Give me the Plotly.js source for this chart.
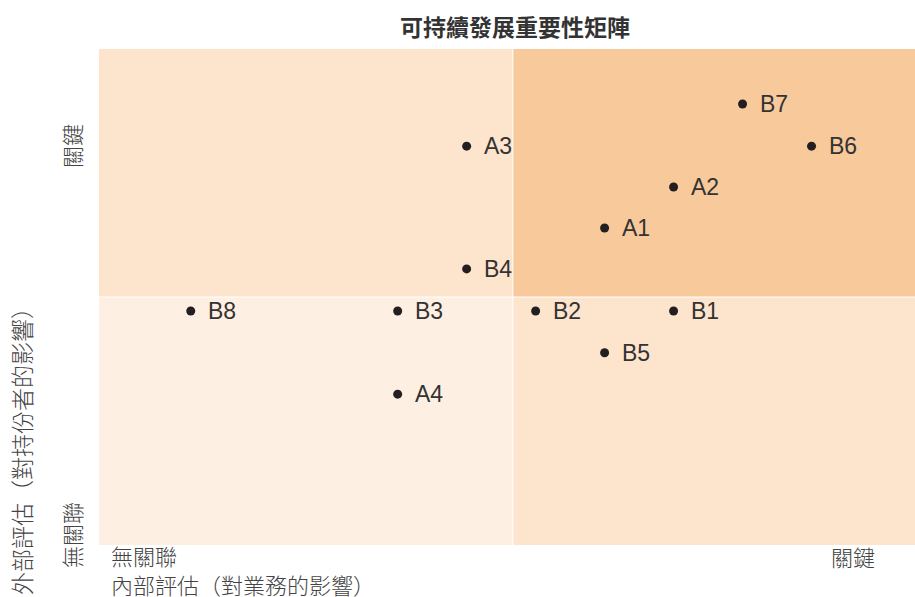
<!DOCTYPE html>
<html>
<head>
<meta charset="utf-8">
<script src="https://cdn.plot.ly/plotly-3.0.1.min.js"></script>
<style>html,body{margin:0;padding:0;background:#fff;}#chart{width:915px;height:597px;}</style>
</head>
<body>
<div id="chart"></div>
<script>
// Data
const labels = ["A1","A2","A3","A4","B1","B2","B3","B4","B5","B6","B7","B8"];
const xVals  = [7.33, 8.33, 5.33, 4.33, 8.33, 6.33, 4.33, 5.33, 7.33, 10.33, 9.33, 1.33];
const yVals  = [7.67, 8.66, 9.65, 3.65, 5.66, 5.66, 5.66, 6.68, 4.65, 9.65, 10.67, 5.66];
const xRange = [0, 11.83];
const yRange = [0, 12];
const split = 6;
const titleText = "可持續發展重要性矩陣";
const xTitle = "內部評估（對業務的影響）";
const yTitle = "外部評估（對持份者的影響）";
const lowLabel = "無關聯";
const highLabel = "關鍵";

const cjk = "'Noto Sans CJK TC', 'Noto Sans CJK SC', sans-serif";
const latin = "'Liberation Sans', Arial, sans-serif";
const labelColor = "#444";

const trace = {
  x: xVals, y: yVals, type: "scatter", mode: "markers",
  marker: {size: 9, color: "#231f20"},
  hoverinfo: "none", cliponaxis: false
};

const annotations = labels.map((t, i) => ({
  x: xVals[i], y: yVals[i], xref: "x", yref: "y", text: t, showarrow: false,
  xanchor: "left", yanchor: "middle", xshift: 15, yshift: 0,
  font: {family: latin, size: 23, color: "#333"}
}));

const lab = (text, x, y, xanchor, yanchor, angle, size) => ({
  text: text, x: x, y: y, xref: "paper", yref: "paper", showarrow: false,
  xanchor: xanchor, yanchor: yanchor, textangle: angle || 0, align: "left",
  font: {family: cjk, size: size || 22, color: labelColor, weight: 300}
});

annotations.push(lab(lowLabel + "<br>" + xTitle, 10/816, (545-569)/496, "left", "middle"));
annotations.push(lab(highLabel, (853-99)/816, (545-556)/496, "center", "middle"));
annotations.push(lab(highLabel, (71-99)/816, (545-146)/496, "center", "middle", -90));
annotations.push(lab(lowLabel, (71-99)/816, (545-535)/496, "center", "middle", -90));
annotations.push(lab(yTitle, (21-99)/816, (545-446)/496, "center", "middle", -90, 23));

const rect = (x0, x1, y0, y1, c) => ({
  type: "rect", xref: "x", yref: "y", x0: x0, x1: x1, y0: y0, y1: y1,
  fillcolor: c, line: {width: 0}, layer: "below"
});

const shapes = [
  rect(xRange[0], split, split, yRange[1], "#fde4cd"),
  rect(split, xRange[1], split, yRange[1], "#f8c99b"),
  rect(xRange[0], split, yRange[0], split, "#fdefe2"),
  rect(split, xRange[1], yRange[0], split, "#fde4cd"),
  {type: "line", xref: "x", yref: "y", x0: split, x1: split, y0: yRange[0], y1: yRange[1], line: {color: "#fff", width: 1}, layer: "below"},
  {type: "line", xref: "x", yref: "y", x0: xRange[0], x1: xRange[1], y0: split, y1: split, line: {color: "#fff", width: 1}, layer: "below"}
];

const layout = {
  width: 915, height: 597,
  margin: {l: 99, r: 0, t: 49, b: 52},
  paper_bgcolor: "#fff", plot_bgcolor: "#fff",
  showlegend: false,
  title: {text: "<b>" + titleText + "</b>", x: (515-99)/816, xref: "paper", xanchor: "center",
          y: 1 - 28/597, yref: "container", yanchor: "middle",
          font: {family: cjk, size: 23, color: "#333"}},
  xaxis: {range: xRange, showgrid: false, zeroline: false, showticklabels: false, ticks: "", showline: false, fixedrange: true},
  yaxis: {range: yRange, showgrid: false, zeroline: false, showticklabels: false, ticks: "", showline: false, fixedrange: true},
  shapes: shapes,
  annotations: annotations
};

Plotly.newPlot("chart", [trace], layout, {displayModeBar: false, staticPlot: true});
</script>
</body>
</html>
